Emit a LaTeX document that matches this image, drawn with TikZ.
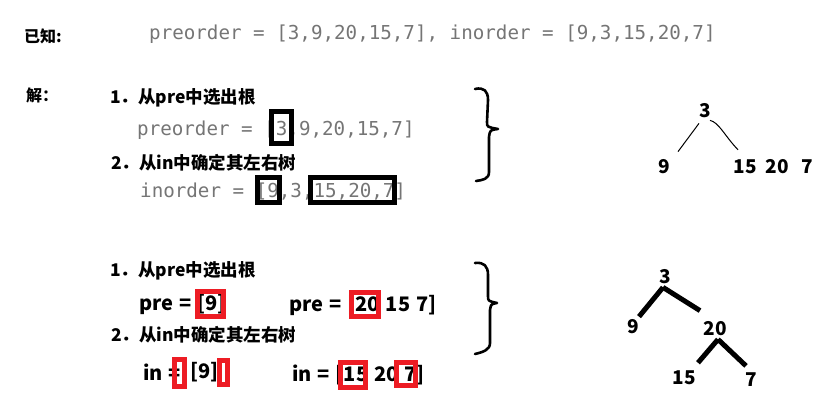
\documentclass[tikz,border=0pt]{standalone}
\usepackage{fontspec}
\newfontfamily\cjk{Noto Sans CJK SC}
\newfontfamily\codefont{DejaVu Sans Mono}
\newcommand\widespace{\spaceskip=6pt\relax}
\definecolor{codegray}{RGB}{117,117,117}
\definecolor{markred}{RGB}{237,28,36}

\begin{document}
\begin{tikzpicture}[
    x=1pt, y=-1pt,
    head/.style={font=\cjk\bfseries\fontsize{17.5}{20}\selectfont, inner sep=0pt, anchor=west},
    code/.style={font=\codefont\fontsize{19.2}{22}\selectfont, text=codegray, inner sep=0pt, anchor=west},
    plain/.style={font=\cjk\bfseries\fontsize{20}{23}\selectfont\widespace, inner sep=0pt, anchor=west},
    num/.style={font=\cjk\bfseries\fontsize{19}{22}\selectfont, inner sep=0pt},
    blkbox/.style={draw=black, line width=5pt, inner sep=0pt},
    redbox/.style={draw=markred, line width=5pt, inner sep=0pt},
    brace/.style={line width=2.6pt, line cap=round, line join=round},
    thin/.style={line width=1pt},
    thick/.style={line width=5pt},
  ]
  \useasboundingbox (0,0) rectangle (834,417);

  % given
  \node[head, font=\cjk\bfseries\fontsize{16}{19}\selectfont] (known) at (24,36) {已知:};
  \node[code] (given) at (149,34) {preorder = [3,9,20,15,7], inorder = [9,3,15,20,7]};

  % first step
  \node[head, font=\cjk\bfseries\fontsize{16}{19}\selectfont] (sol) at (26,95) {解：};
  \node[head] (stepa) at (110,98) {1．从pre中选出根};
  \node[code] (pre) at (137,130) {preorder = [3,9,20,15,7]};
  \node[blkbox, minimum width=20, minimum height=32] (rootbox) at (281,127.3) {};
  \node[head] (stepb) at (111,163) {2．从in中确定其左右树};
  \node[code] (ino) at (140,192) {inorder = [9,3,15,20,7]};
  \node[blkbox, minimum width=22, minimum height=25] (leftbox) at (268.5,190) {};
  \node[blkbox, minimum width=84, minimum height=25] (rightbox) at (352,190) {};

  \draw[brace] (475,89) .. controls (484,87) and (488,91) .. (488,100) -- (487,122)
    .. controls (487,127) .. (498,129) .. controls (490,130) .. (489,137) -- (489,172)
    .. controls (489,179) and (483,180) .. (476,181);

  % first tree
  \node[num] (t3) at (705,111) {3};
  \node[num] (t9) at (664,167) {9};
  \node[num] (t15) at (745,167) {15};
  \node[num] (t20) at (777,167) {20};
  \node[num] (t7) at (807,167) {7};
  \draw[thin] ([shift={(-6,5)}]t3.south) -- ([shift={(14,-8)}]t9.north);
  \draw[thin] ([shift={(5,2)}]t3.south) .. controls ([shift={(14,4)}]t3.south) and ([shift={(20,18)}]t3.south)
    .. ([shift={(-7,-10)}]t15.north);

  % second step
  \node[head] (stepc) at (110,271) {1．从pre中选出根};
  \node[plain] (prel) at (139,304) {pre = [9]};
  \node[redbox, minimum width=26, minimum height=25] (prelbox) at (210.5,304) {};
  \node[plain] (prer) at (289,305) {pre = [20 15 7]};
  \node[redbox, minimum width=27, minimum height=24] (prerbox) at (365,304.5) {};
  \node[head] (stepd) at (111,335) {2．从in中确定其左右树};
  \node[plain] (inl) at (143,372) {in =};
  \node[plain] (inlmid) at (190,372) {[9]};
  \node[redbox, minimum width=10, minimum height=27] (inlboxa) at (179.5,373) {};
  \node[redbox, minimum width=8, minimum height=24] (inlboxb) at (223.5,372.5) {};
  \node[plain] (inr) at (292,375) {in = [15 20 7]};
  \node[redbox, minimum width=25, minimum height=25] (inrboxa) at (353,375) {};
  \node[redbox, minimum width=19, minimum height=23] (inrboxb) at (406,374) {};

  \draw[brace] (475,263) .. controls (484,262) and (488,266) .. (488,275) -- (488,296)
    .. controls (488,301) .. (497,303) .. controls (491,304) .. (490,310) -- (490,343)
    .. controls (490,350) and (483,352) .. (475,354);

  % second tree
  \node[num] (b3) at (665,277) {3};
  \node[num] (b9) at (633,327) {9};
  \node[num] (b20) at (715,329) {20};
  \node[num] (b15) at (684,378) {15};
  \node[num] (b7) at (751,380) {7};
  \draw[thick] ([shift={(-2,3)}]b3.south) -- ([shift={(6,-3)}]b9.north);
  \draw[thick] ([shift={(-2,3)}]b3.south) -- ([shift={(-15,-11)}]b20.north);
  \draw[thick] ([shift={(3,3)}]b20.south) -- ([shift={(14,-8)}]b15.north);
  \draw[thick] ([shift={(3,3)}]b20.south) -- ([shift={(-5,-7)}]b7.north);
\end{tikzpicture}
\end{document}
